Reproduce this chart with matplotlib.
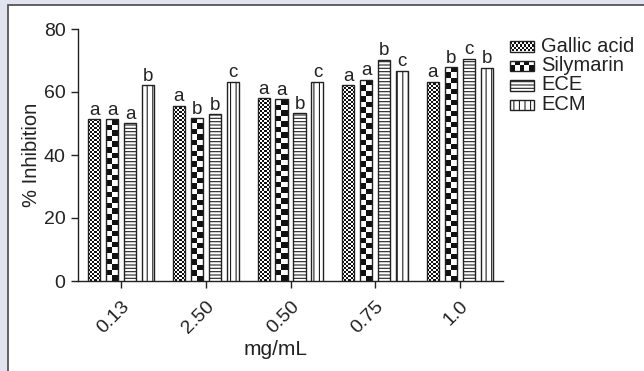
import numpy as np
import matplotlib
matplotlib.use('Agg')
import matplotlib.pyplot as plt
from matplotlib.colors import ListedColormap
from matplotlib.patches import Rectangle

doses = ['0.13', '2.50', '0.50', '0.75', '1.0']
names = ['Gallic acid', 'Silymarin', 'ECE', 'ECM']
gallic = [51.3, 55.7, 58.0, 62.1, 63.3]
silymarin = [51.3, 51.6, 57.7, 63.8, 67.8]
ece = [50.0, 52.9, 53.2, 70.2, 70.6]
ecm = [62.1, 63.2, 63.2, 66.7, 67.6]
letters_gallic = ['a', 'a', 'a', 'a', 'a']
letters_silymarin = ['a', 'b', 'a', 'a', 'b']
letters_ece = ['a', 'b', 'b', 'b', 'c']
letters_ecm = ['b', 'c', 'c', 'c', 'b']

plt.rcParams['font.family'] = ['Liberation Sans', 'DejaVu Sans']
plt.rcParams['hatch.linewidth'] = 0.8
ink = '#222222'
checker_cmap = ListedColormap(['white', '#111111'])


def checker_fill(ax, patch, cell_px):
    # fill a rectangle with a black/white checkerboard, clipped to it
    x0, y0 = patch.get_x(), patch.get_y()
    w, h = patch.get_width(), patch.get_height()
    (px0, py0), (px1, py1) = ax.transData.transform([(x0, y0), (x0 + w, y0 + h)])
    nx = max(1, int(round(abs(px1 - px0) / cell_px)))
    ny = max(1, int(round(abs(py1 - py0) / cell_px)))
    grid = np.indices((ny, nx)).sum(axis=0) % 2
    im = ax.imshow(grid, cmap=checker_cmap, extent=(x0, x0 + w, y0, y0 + h),
                   origin='lower', interpolation='nearest', aspect='auto',
                   zorder=patch.get_zorder() - 0.1)
    im.set_clip_path(patch)


styles = [
    {'checker': 2.0, 'hatch': None},
    {'checker': 5.5, 'hatch': None},
    {'checker': None, 'hatch': '-----'},
    {'checker': None, 'hatch': '|||'},
]

fig = plt.figure(figsize=(6.44, 3.71), dpi=100)
fig.patch.set_facecolor('#e1e4f0')
fig.patches.append(Rectangle((8 / 644, -0.05), 1.0, (366 / 371) + 0.05,
                             transform=fig.transFigure, facecolor='white',
                             edgecolor='#555555', lw=1.3, zorder=-5))

ax = fig.add_axes([78 / 644, 90 / 371, 425 / 644, 252 / 371])
ax.set_facecolor('none')
ax.set_xlim(-0.51, 4.51)
ax.set_ylim(0, 80)

x = np.arange(len(doses))
width = 0.142
step = 0.2125
series = [gallic, silymarin, ece, ecm]
letters = [letters_gallic, letters_silymarin, letters_ece, letters_ecm]

for i, (vals, labs, st) in enumerate(zip(series, letters, styles)):
    pos = x + (i - 1.5) * step
    if st['checker']:
        bars = ax.bar(pos, vals, width, facecolor='none', edgecolor=ink, lw=1.0, zorder=3)
        for b in bars:
            checker_fill(ax, b, st['checker'])
    else:
        bars = ax.bar(pos, vals, width, facecolor='white', edgecolor=ink, lw=1.0,
                      hatch=st['hatch'], zorder=3)
    for b, lab in zip(bars, labs):
        ax.annotate(lab, (b.get_x() + b.get_width() / 2, b.get_height()),
                    xytext=(0, 0.5), textcoords='offset points',
                    ha='center', va='bottom', fontsize=13.5, color=ink)

ax.set_xlim(-0.51, 4.51)
ax.set_ylim(0, 80)
ax.set_yticks([0, 20, 40, 60, 80])
ax.set_xticks(x)
ax.set_xticklabels(doses, rotation=45, ha='right', rotation_mode='anchor')
ax.tick_params(axis='both', colors=ink, labelsize=14, length=5, width=1.0, pad=4)
ax.tick_params(axis='x', pad=7)
for s in ['top', 'right']:
    ax.spines[s].set_visible(False)
for s in ['left', 'bottom']:
    ax.spines[s].set_color(ink)
    ax.spines[s].set_linewidth(1.0)
ax.set_xlabel('mg/mL', fontsize=15, color=ink)
ax.set_ylabel('% Inhibition', fontsize=14.5, color=ink)
ax.xaxis.set_label_coords(0.464, -0.235)
ax.yaxis.set_label_coords(-0.088, 0.5)

# legend drawn by hand so the checker swatches match the bars
lax = fig.add_axes([0, 0, 1, 1], zorder=5)
lax.set_xlim(0, 644)
lax.set_ylim(371, 0)
lax.axis('off')
for i, (name, st) in enumerate(zip(names, styles)):
    yc = 46 + 19.5 * i
    if st['checker']:
        r = Rectangle((510, yc - 5), 24, 10.5, facecolor='none', edgecolor=ink, lw=1.0, zorder=3)
        lax.add_patch(r)
        checker_fill(lax, r, st['checker'] * (0.8 if i == 1 else 1))
    else:
        r = Rectangle((510, yc - 5), 24, 10.5, facecolor='white', edgecolor=ink, lw=1.0,
                      hatch=st['hatch'], zorder=3)
        lax.add_patch(r)
    lax.text(541, yc, name, fontsize=14.5, color=ink, va='center', ha='left')
lax.set_xlim(0, 644)
lax.set_ylim(371, 0)

fig.savefig('out.png', dpi=100, facecolor=fig.get_facecolor())
